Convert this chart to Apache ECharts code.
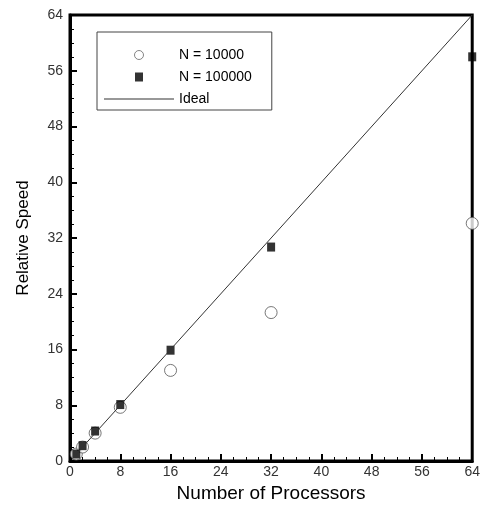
<!DOCTYPE html>
<html>
<head>
<meta charset="utf-8">
<script src="https://cdn.jsdelivr.net/npm/echarts@6/dist/echarts.min.js"></script>
<style>html,body{margin:0;padding:0;background:#fff;}#chart{width:483px;height:508px;}</style>
</head>
<body>
<div id="chart"></div>
<script>
const processors = [1, 2, 4, 8, 16, 32, 64];
const speedN10000 = [1, 2, 4, 7.7, 13, 21.3, 34.1];
const speedN100000 = [1, 2.2, 4.3, 8.1, 15.9, 30.7, 58];
const idealX = [1, 64];
const idealY = [1, 64];
const axisTicks = [0, 8, 16, 24, 32, 40, 48, 56, 64];

const FONT = "'Liberation Sans', Arial, sans-serif";
const chart = echarts.init(document.getElementById('chart'), null, {renderer: 'canvas'});

const tickMin = axisTicks[0], tickMax = axisTicks[axisTicks.length - 1], tickStep = axisTicks[1] - axisTicks[0];

function axisCommon(name, isY) {
  return {
    type: 'value', min: tickMin, max: tickMax, interval: tickStep,
    name: name, nameLocation: 'middle',
    nameGap: isY ? 38 : 23,
    nameTextStyle: {fontFamily: FONT, fontSize: isY ? 17 : 19, color: '#000'},
    axisLine: {show: true, onZero: false, lineStyle: {color: '#000', width: 3}},
    axisTick: {show: true, inside: true, length: 7, lineStyle: {color: '#000', width: 2}},
    minorTick: {show: true, splitNumber: 4, length: 4, lineStyle: {color: '#000', width: 1}},
    splitLine: {show: false},
    axisLabel: {fontFamily: FONT, fontSize: 14, color: '#333', margin: isY ? 7 : 4}
  };
}

chart.setOption({
  animation: false,
  backgroundColor: '#fff',
  grid: {left: 70, right: 5, top: 15, bottom: 47, show: true, borderColor: '#000', borderWidth: 3, backgroundColor: 'transparent'},
  xAxis: axisCommon('Number of Processors', false),
  yAxis: axisCommon('Relative Speed', true),
  legend: {
    orient: 'vertical', left: 97, top: 32,
    padding: [16, 20, 4, 7],
    borderColor: '#444', borderWidth: 1, backgroundColor: '#fff',
    itemWidth: 70, itemHeight: 9, itemGap: 8,
    symbolKeepAspect: true,
    textStyle: {fontFamily: FONT, fontSize: 14, color: '#000'},
    data: [
      {name: 'N = 10000', icon: 'circle', itemStyle: {color: '#fff', borderColor: '#666', borderWidth: 1}},
      {name: 'N = 100000', icon: 'path://M0,0H8V9H0Z'},
      {name: 'Ideal', icon: 'path://M0,0H70V1H0Z'}
    ]
  },
  series: [
    {
      name: 'N = 10000', type: 'scatter', symbol: 'circle', symbolSize: 12,
      itemStyle: {color: '#fff', borderColor: '#555', borderWidth: 1},
      data: processors.map((p, i) => [p, speedN10000[i]]), z: 3
    },
    {
      name: 'N = 100000', type: 'scatter', symbol: 'rect', symbolSize: [8, 9],
      itemStyle: {color: '#000'},
      data: processors.map((p, i) => [p, speedN100000[i]]), z: 4
    },
    {
      name: 'Ideal', type: 'line', symbol: 'none', showSymbol: false,
      lineStyle: {color: '#333', width: 1}, itemStyle: {color: '#333'},
      data: idealX.map((x, i) => [x, idealY[i]]), z: 5
    }
  ]
});
</script>
</body>
</html>
